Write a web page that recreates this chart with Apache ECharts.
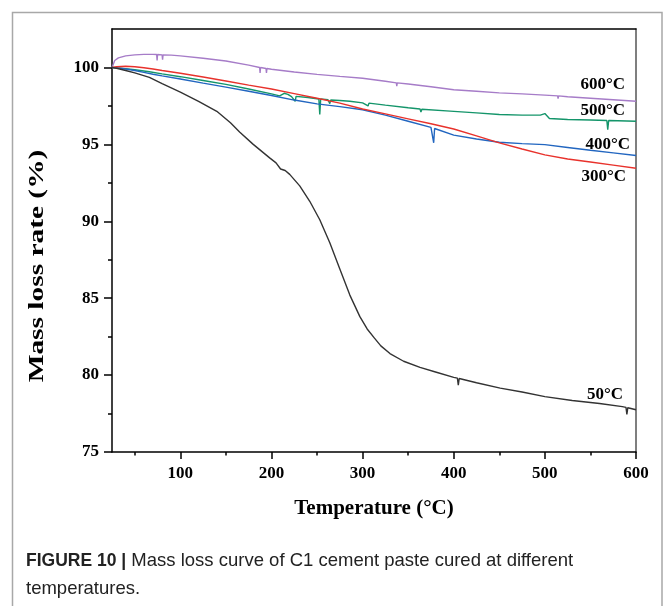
<!DOCTYPE html>
<html>
<head>
<meta charset="utf-8">
<script src="https://cdn.jsdelivr.net/npm/echarts@6/dist/echarts.min.js"></script>
<style>
html,body{margin:0;padding:0;background:#fff;}
#chart{width:663px;height:606px;}
</style>
</head>
<body>
<div id="chart"></div>
<script>
// ---- data ----
const xMajorTicks = [100, 200, 300, 400, 500, 600];
const xMinorTicks = [50, 150, 250, 350, 450, 550];
const yMajorTicks = [75, 80, 85, 90, 95, 100];
const yMinorTicks = [77.5, 82.5, 87.5, 92.5, 97.5];

const t600 = [25, 28, 32, 40, 50, 60, 70, 74, 74.5, 75, 80, 80.5, 81, 90, 100, 125, 150, 175, 187, 187.5, 188, 194, 194.5, 195, 200, 225, 250, 275, 300, 325, 337, 337.5, 338, 350, 375, 400, 425, 450, 475, 500, 514, 514.5, 515, 525, 550, 575, 600];
const m600 = [100.0, 100.45, 100.62, 100.75, 100.82, 100.85, 100.85, 100.84, 100.45, 100.84, 100.82, 100.5, 100.82, 100.8, 100.75, 100.6, 100.42, 100.15, 100.0, 99.65, 100.0, 99.93, 99.65, 99.93, 99.88, 99.7, 99.55, 99.42, 99.3, 99.1, 99.0, 98.78, 99.0, 98.92, 98.75, 98.55, 98.45, 98.35, 98.28, 98.2, 98.15, 97.98, 98.15, 98.1, 98.0, 97.9, 97.8];

const t500 = [25, 30, 40, 50, 66, 80, 100, 125, 150, 175, 200, 209, 214, 218, 222, 226, 227, 240, 252, 253, 254, 262, 264, 265, 275, 286, 300, 306, 307, 325, 350, 363, 364, 365, 396, 425, 450, 475, 495, 500, 505, 525, 550, 568, 569, 570, 600];
const m500 = [100.0, 99.97, 99.92, 99.85, 99.72, 99.58, 99.4, 99.15, 98.9, 98.6, 98.28, 98.15, 98.32, 98.25, 98.1, 97.8, 98.12, 98.05, 97.95, 96.95, 97.95, 97.9, 97.65, 97.88, 97.85, 97.8, 97.7, 97.5, 97.68, 97.55, 97.38, 97.3, 97.1, 97.28, 97.16, 97.05, 96.94, 96.9, 96.9, 97.0, 96.68, 96.62, 96.58, 96.55, 95.96, 96.55, 96.5];

const t400 = [25, 30, 40, 50, 60, 70, 80, 100, 125, 150, 175, 200, 225, 250, 275, 300, 325, 350, 375, 377, 378, 379, 380, 400, 425, 450, 475, 500, 525, 550, 575, 600];
const m400 = [100.0, 99.98, 99.9, 99.8, 99.68, 99.56, 99.45, 99.25, 98.98, 98.72, 98.45, 98.18, 97.88, 97.63, 97.45, 97.25, 96.9, 96.5, 96.1, 96.05, 95.1, 96.03, 96.0, 95.6, 95.35, 95.14, 95.05, 94.98, 94.8, 94.62, 94.45, 94.28];

const t300 = [25, 30, 40, 50, 60, 70, 80, 100, 125, 150, 175, 200, 225, 250, 275, 300, 325, 350, 375, 400, 425, 450, 475, 500, 525, 550, 575, 600];
const m300 = [100.0, 100.05, 100.08, 100.05, 99.98, 99.9, 99.8, 99.62, 99.38, 99.12, 98.85, 98.6, 98.3, 98.0, 97.68, 97.3, 96.98, 96.66, 96.34, 96.0, 95.55, 95.1, 94.7, 94.32, 94.05, 93.85, 93.65, 93.45];

const t50 = [25, 30, 40, 50, 66, 80, 100, 120, 140, 155, 165, 180, 198, 205, 210, 212, 215, 220, 231, 242, 253, 264, 275, 286, 297, 305, 313, 320, 330, 345, 363, 380, 400, 404, 405, 406, 425, 451, 475, 500, 530, 560, 585, 589, 590, 591, 600];
const m50 = [100.0, 99.95, 99.8, 99.65, 99.35, 98.95, 98.4, 97.8, 97.15, 96.4, 95.8, 95.0, 94.12, 93.8, 93.4, 93.35, 93.3, 93.05, 92.3, 91.3, 90.1, 88.6, 86.9, 85.2, 83.8, 83.0, 82.4, 81.9, 81.4, 80.9, 80.5, 80.2, 79.85, 79.8, 79.35, 79.78, 79.5, 79.15, 78.9, 78.6, 78.35, 78.15, 77.95, 77.9, 77.45, 77.88, 77.75];

const seriesNames = ['600°C', '500°C', '400°C', '300°C', '50°C'];
const seriesColors = ['#a67cc8', '#14956a', '#2266c0', '#e8322c', '#333333'];

function zip(t, m) { return t.map((v, i) => [v, m[i]]); }
const allData = [zip(t600, m600), zip(t500, m500), zip(t400, m400), zip(t300, m300), zip(t50, m50)];

const serif = '"Liberation Serif", "Times New Roman", serif';
const sans = '"Liberation Sans", Arial, sans-serif';
const chart = echarts.init(document.getElementById('chart'));

const option = {
  animation: false,
  backgroundColor: '#fff',
  grid: { left: 112, top: 29, right: 27, bottom: 154, containLabel: false },
  xAxis: [
    {
      type: 'value', min: 25, max: 600, position: 'bottom',
      axisLine: { show: true, lineStyle: { color: '#000', width: 1.5 } },
      axisTick: { show: true, customValues: xMajorTicks, length: 7, lineStyle: { color: '#000', width: 1.5 } },
      axisLabel: { customValues: xMajorTicks, color: '#000', fontFamily: serif, fontWeight: 'bold', fontSize: 17, margin: 13 },
      splitLine: { show: false },
      name: 'Temperature (°C)', nameLocation: 'middle', nameGap: 46,
      nameTextStyle: { color: '#000', fontFamily: serif, fontWeight: 'bold', fontSize: 21 }
    },
    {
      type: 'value', min: 25, max: 600, position: 'bottom',
      axisLine: { show: false },
      axisTick: { show: true, customValues: xMinorTicks, length: 3.5, lineStyle: { color: '#000', width: 1.5 } },
      axisLabel: { show: false },
      splitLine: { show: false }
    },
    {
      type: 'value', min: 25, max: 600, position: 'top',
      axisLine: { show: true, lineStyle: { color: '#000', width: 1.5 } },
      axisTick: { show: false }, axisLabel: { show: false }, splitLine: { show: false }
    }
  ],
  yAxis: [
    {
      type: 'value', min: 75, max: 102.5, position: 'left',
      axisLine: { show: true, lineStyle: { color: '#000', width: 1.5 } },
      axisTick: { show: true, customValues: yMajorTicks, length: 8, lineStyle: { color: '#000', width: 1.5 } },
      axisLabel: { customValues: yMajorTicks, color: '#000', fontFamily: serif, fontWeight: 'bold', fontSize: 17, margin: 13 },
      splitLine: { show: false }
    },
    {
      type: 'value', min: 75, max: 102.5, position: 'left',
      axisLine: { show: false },
      axisTick: { show: true, customValues: yMinorTicks, length: 4, lineStyle: { color: '#000', width: 1.5 } },
      axisLabel: { show: false }, splitLine: { show: false }
    },
    {
      type: 'value', min: 75, max: 102.5, position: 'right',
      axisLine: { show: true, lineStyle: { color: '#555', width: 1.5 } },
      axisTick: { show: false }, axisLabel: { show: false }, splitLine: { show: false }
    }
  ],
  series: allData.map((d, i) => ({
    name: seriesNames[i], type: 'line', data: d, xAxisIndex: 0, yAxisIndex: 0,
    showSymbol: false, symbol: 'none', smooth: false,
    lineStyle: { color: seriesColors[i], width: 1.4 },
    itemStyle: { color: seriesColors[i] },
    z: 3
  })),
  graphic: [
    { type: 'rect', shape: { x: 12.5, y: 12.5, width: 649.5, height: 700 },
      style: { fill: 'none', stroke: '#a8a8a8', lineWidth: 1.5 }, silent: true, z: -1 },
    { type: 'text', x: 38, y: 266, rotation: Math.PI / 2, scaleX: 1.4, scaleY: 1,
      style: { text: 'Mass loss rate (%)', fill: '#000', font: 'bold 21px ' + serif, align: 'center', verticalAlign: 'middle' } },
    { type: 'text', x: 625, y: 85, style: { text: '600°C', fill: '#000', font: 'bold 17px ' + serif, align: 'right', verticalAlign: 'middle' } },
    { type: 'text', x: 625, y: 111, style: { text: '500°C', fill: '#000', font: 'bold 17px ' + serif, align: 'right', verticalAlign: 'middle' } },
    { type: 'text', x: 630, y: 145, style: { text: '400°C', fill: '#000', font: 'bold 17px ' + serif, align: 'right', verticalAlign: 'middle' } },
    { type: 'text', x: 626, y: 177, style: { text: '300°C', fill: '#000', font: 'bold 17px ' + serif, align: 'right', verticalAlign: 'middle' } },
    { type: 'text', x: 623, y: 395, style: { text: '50°C', fill: '#000', font: 'bold 17px ' + serif, align: 'right', verticalAlign: 'middle' } },
    { type: 'text', x: 26, y: 547,
      style: {
        text: '{b|FIGURE 10 |} {n|Mass loss curve of C1 cement paste cured at different}\n{n|temperatures.}',
        fill: '#222', font: '18.5px ' + sans, lineHeight: 28,
        rich: {
          b: { fontWeight: 'bold', fontSize: 17.5, fontFamily: sans, fill: '#222', lineHeight: 28 },
          n: { fontSize: 18.5, fontFamily: sans, fill: '#222', lineHeight: 28 }
        }
      } }
  ]
};
chart.setOption(option);
</script>
</body>
</html>
